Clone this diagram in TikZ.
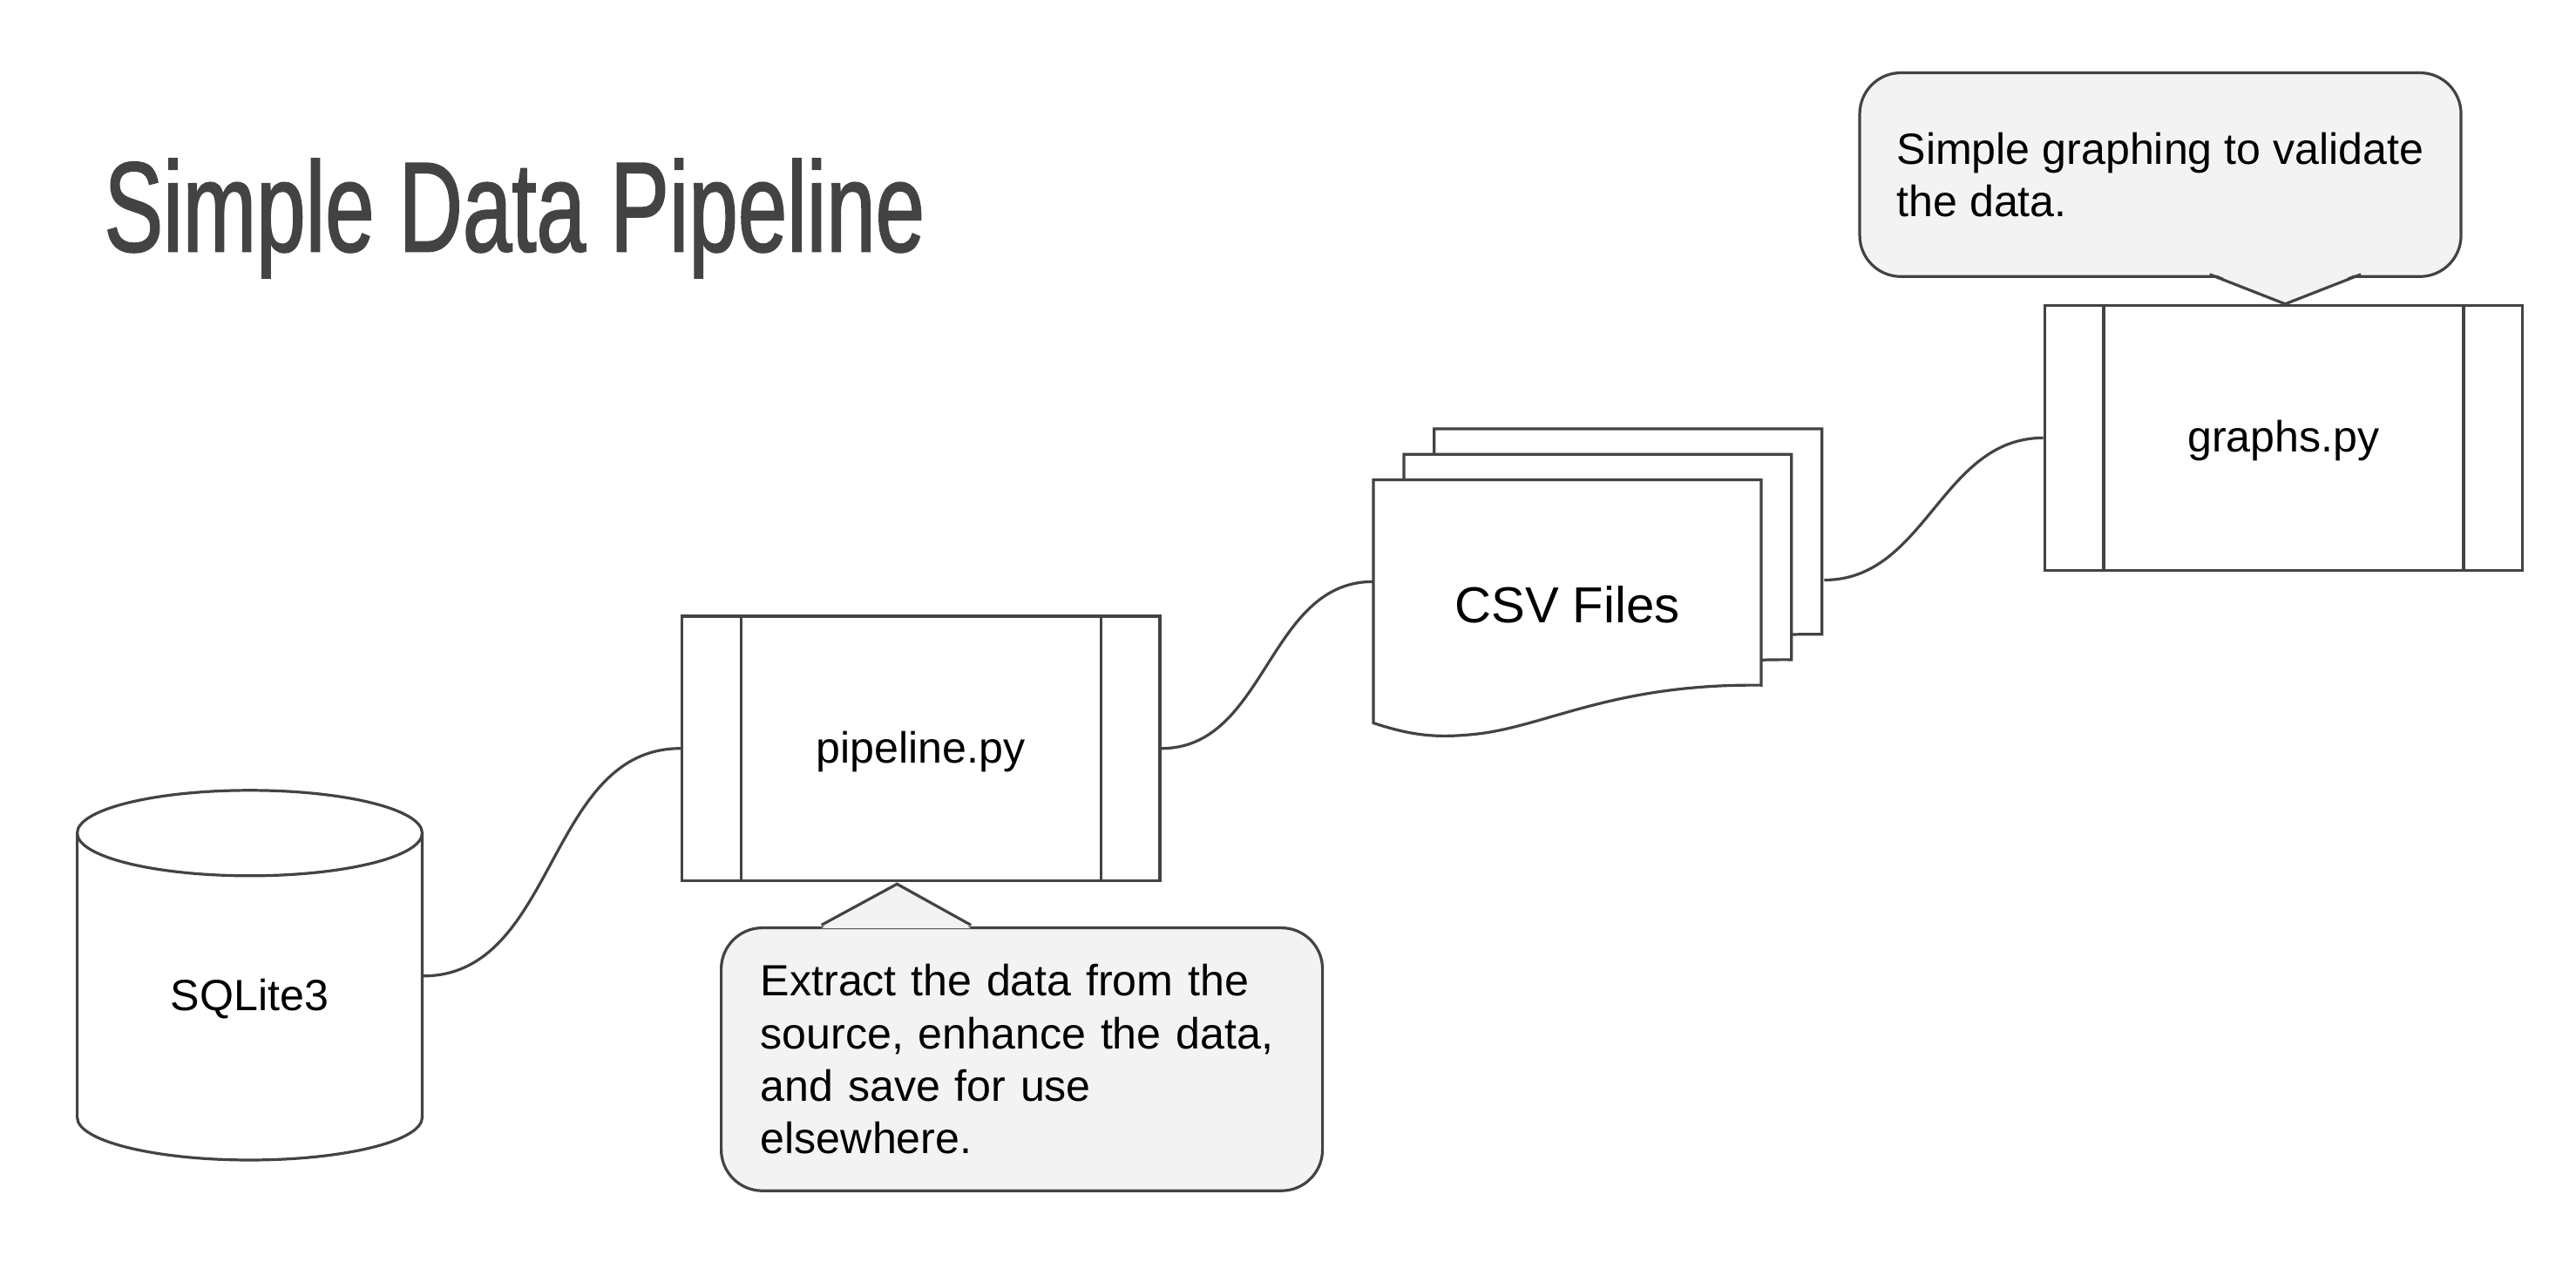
\documentclass[tikz,border=0pt]{standalone}
\usepackage{fontspec}
\setmainfont{Liberation Sans}
\newfontfamily\titlefont[FakeStretch=0.69, FakeBold=1.2]{Liberation Sans}
\usetikzlibrary{positioning}
\definecolor{linegray}{HTML}{434343}
\definecolor{notegray}{HTML}{F3F3F3}

\tikzset{
    line/.style={draw=linegray, line width=0.85pt},
    link/.style={line, out=0, in=180},
    page/.style={line, fill=white},
    label/.style={font=\fontsize{13.3}{16}\selectfont},
    proc/.style={line, fill=white, minimum width=145.5pt, minimum height=80.5pt,
        inner sep=0pt, label, text depth=1pt,
        path picture={
            \draw[line] ([xshift=18pt]path picture bounding box.north west) -- ([xshift=18pt]path picture bounding box.south west);
            \draw[line] ([xshift=-18pt]path picture bounding box.north east) -- ([xshift=-18pt]path picture bounding box.south east);
        }},
    note/.style={line, fill=notegray, rounded corners=12.5pt, align=left, label}
}

\begin{document}
\begin{tikzpicture}[x=0.5pt, y=-0.5pt]
    \useasboundingbox (0,0) rectangle (1568,772.3);

    % title
    \node[anchor=base west, inner sep=0pt, text=linegray, font=\titlefont\fontsize{39}{44}\selectfont] (title) at (63,153) {Simple Data Pipeline};

    % database
    \draw[line, fill=white] (47,507) -- (47,680) arc[start angle=180, end angle=360, x radius=52.5pt, y radius=13pt] -- (257,507);
    \draw[line] (152,507) ellipse[x radius=52.5pt, y radius=13pt];
    \node[minimum width=105pt, inner sep=0pt, label] (db) at (152,608) {SQLite3};

    % scripts
    \node[proc] (pipe) at (560.5,455.5) {pipeline.py};
    \node[proc] (graphs) at (1390,266.5) {graphs.py};

    % csv stack
    \foreach \d in {2,1,0} {
        \draw[page, shift={(18.5*\d,-15.5*\d)}] (836,440) -- (836,292) -- (1072,292) -- (1072,417)
            .. controls (980,416) and (940,443) .. (896,447)
            .. controls (875,449) and (860,448) .. (836,440) -- cycle;
    }
    \node[minimum width=118pt, minimum height=74pt, inner sep=0pt, font=\fontsize{15.4}{18}\selectfont] (csv) at (954,368) {CSV Files};

    % notes
    \node[note, text width=159pt, inner xsep=12pt, minimum height=80pt, below=13.5pt of pipe, xshift=30.75pt] (n1) {Extract the data from the\\source, enhance the data,\\and save for use\\elsewhere.};
    \fill[notegray] (500,565) -- (546,538) -- (591,565) -- cycle;
    \draw[line] (500,563) -- (546,538) -- (591,563);

    \node[note, minimum width=183pt, minimum height=62pt, above=9pt of graphs, xshift=-37.5pt, yshift=-1pt] (n2) {Simple graphing to validate\\the data.};
    \fill[notegray] (1345,165.5) -- (1391,185) -- (1437,165.5) -- cycle;
    \draw[line] (1345,167) -- (1391,185) -- (1437,167);

    % connectors
    \draw[link] ([yshift=7pt]db.east) to (pipe.west);
    \draw[link] (pipe.east) to ([yshift=7pt]csv.west);
    \draw[link] ([xshift=19pt,yshift=7.5pt]csv.east) to (graphs.west);
\end{tikzpicture}
\end{document}
